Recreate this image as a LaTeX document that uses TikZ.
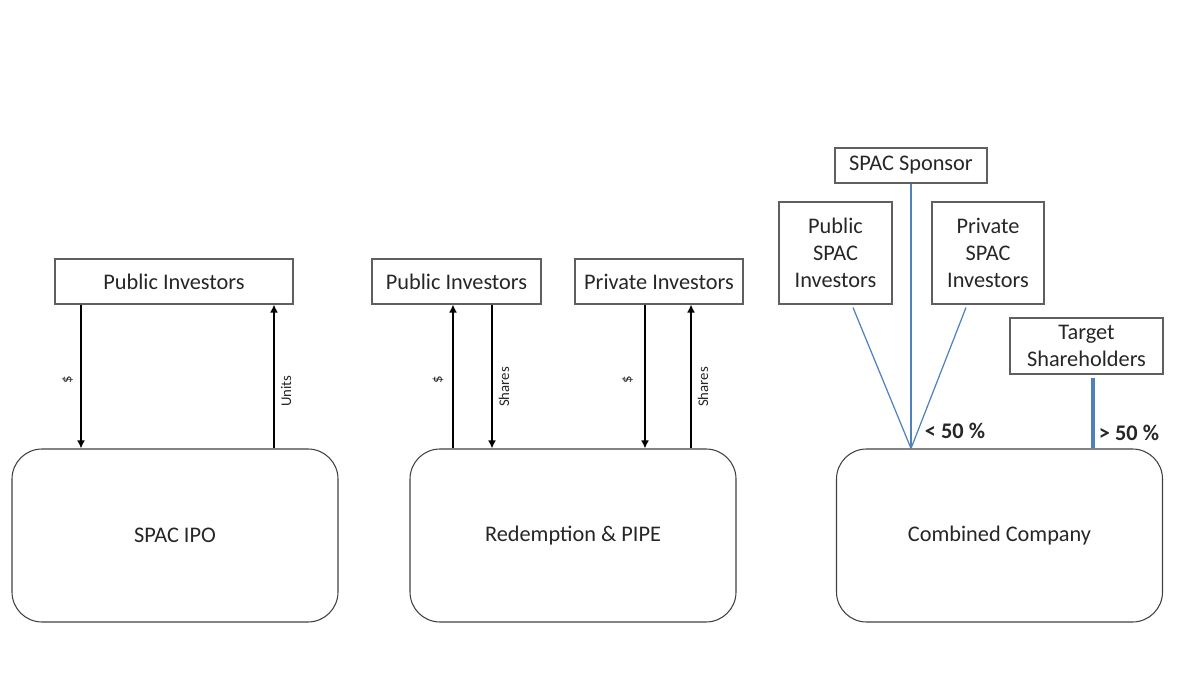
\documentclass[tikz,border=0pt]{standalone}
\usepackage{fontspec}
\setmainfont{Carlito}
\usetikzlibrary{arrows.meta}
\definecolor{linkblue}{RGB}{79,129,189}
\definecolor{boxgray}{RGB}{95,95,95}
\definecolor{txt}{RGB}{38,38,38}
\begin{document}
\begin{tikzpicture}[>={Latex[length=1.6mm,width=1.6mm]},
    every node/.style={text=txt,font=\fontsize{12.7}{15.3}\selectfont},
    party/.style={draw=boxgray,line width=0.6pt,inner sep=0pt,align=center},
    stage/.style={draw=black!75,line width=0.6pt,rounded corners=0.6cm,
        minimum width=6.52cm,minimum height=3.46cm},
    flow/.style={->,line width=1.1pt},
    lbl/.style={rotate=90,font=\fontsize{8.4}{10}\selectfont},
    stake/.style={draw=linkblue,line width=0.7pt},
    pct/.style={font=\fontsize{12.7}{15.3}\selectfont\bfseries}]
\useasboundingbox (0,0) rectangle (23.7,13.62);
% SPAC IPO
\begin{scope}
    \node[party,minimum width=4.76cm,minimum height=0.9cm] (pubA) at (3.48,7.99) {Public Investors};
    \node[stage] (ipo) at (3.50,2.91) {SPAC IPO};
    \coordinate (a1) at (1.62,0);
    \coordinate (a2) at (5.48,0);
    \draw[flow] (pubA.south -| a1) -- (ipo.north -| a1);
    \draw[flow] (ipo.north -| a2) -- (pubA.south -| a2);
    \node[lbl] (ipoCash) at (1.35,6.02) {\$};
    \node[lbl] (ipoUnits) at (5.72,5.80) {Units};
\end{scope}
% Redemption & PIPE
\begin{scope}
    \node[party,minimum width=3.38cm,minimum height=0.9cm] (pubB) at (9.13,7.99) {Public Investors};
    \node[party,minimum width=3.36cm,minimum height=0.9cm] (privB) at (13.18,7.99) {Private Investors};
    \node[stage] (red) at (11.46,2.91) {Redemption \& PIPE};
    \coordinate (b1) at (9.06,0);
    \coordinate (b2) at (9.84,0);
    \coordinate (b3) at (12.90,0);
    \coordinate (b4) at (13.82,0);
    \draw[flow] (red.north -| b1) -- (pubB.south -| b1);
    \draw[flow] (pubB.south -| b2) -- (red.north -| b2);
    \draw[flow] (privB.south -| b3) -- (red.north -| b3);
    \draw[flow] (red.north -| b4) -- (privB.south -| b4);
    \node[lbl] (redCashA) at (8.76,6.02) {\$};
    \node[lbl] (redShareA) at (10.08,5.88) {Shares};
    \node[lbl] (redCashB) at (12.55,6.02) {\$};
    \node[lbl] (redShareB) at (14.06,5.88) {Shares};
\end{scope}
% Combined Company
\begin{scope}
    \node[party,minimum width=3.04cm,minimum height=0.7cm] (spons) at (18.22,10.31) {SPAC Sponsor};
    \node[party,minimum width=2.26cm,minimum height=2.04cm] (pubS) at (16.71,8.56) {Public\\SPAC\\Investors};
    \node[party,minimum width=2.24cm,minimum height=2.04cm] (privS) at (19.76,8.56) {Private\\SPAC\\Investors};
    \node[party,minimum width=3.06cm,minimum height=1.12cm] (tgt) at (21.73,6.70) {Target\\Shareholders};
    \node[stage] (comb) at (19.99,2.91) {Combined Company};
    \coordinate (c1) at (18.22,0);
    \coordinate (c2) at (21.86,0);
    \draw[stake] ([xshift=0.35cm,yshift=-0.06cm]pubS.south) -- (comb.north -| c1);
    \draw[stake] (spons.south) -- (comb.north -| c1);
    \draw[stake] ([xshift=-0.44cm,yshift=-0.06cm]privS.south) -- (comb.north -| c1);
    \draw[stake,line width=1.9pt] ([yshift=-0.06cm]tgt.south -| c2) -- (comb.north -| c2);
    \node[pct] (minor) at (19.10,5.00) {< 50 \%};
    \node[pct] (major) at (22.58,4.96) {> 50 \%};
\end{scope}
\end{tikzpicture}
\end{document}
